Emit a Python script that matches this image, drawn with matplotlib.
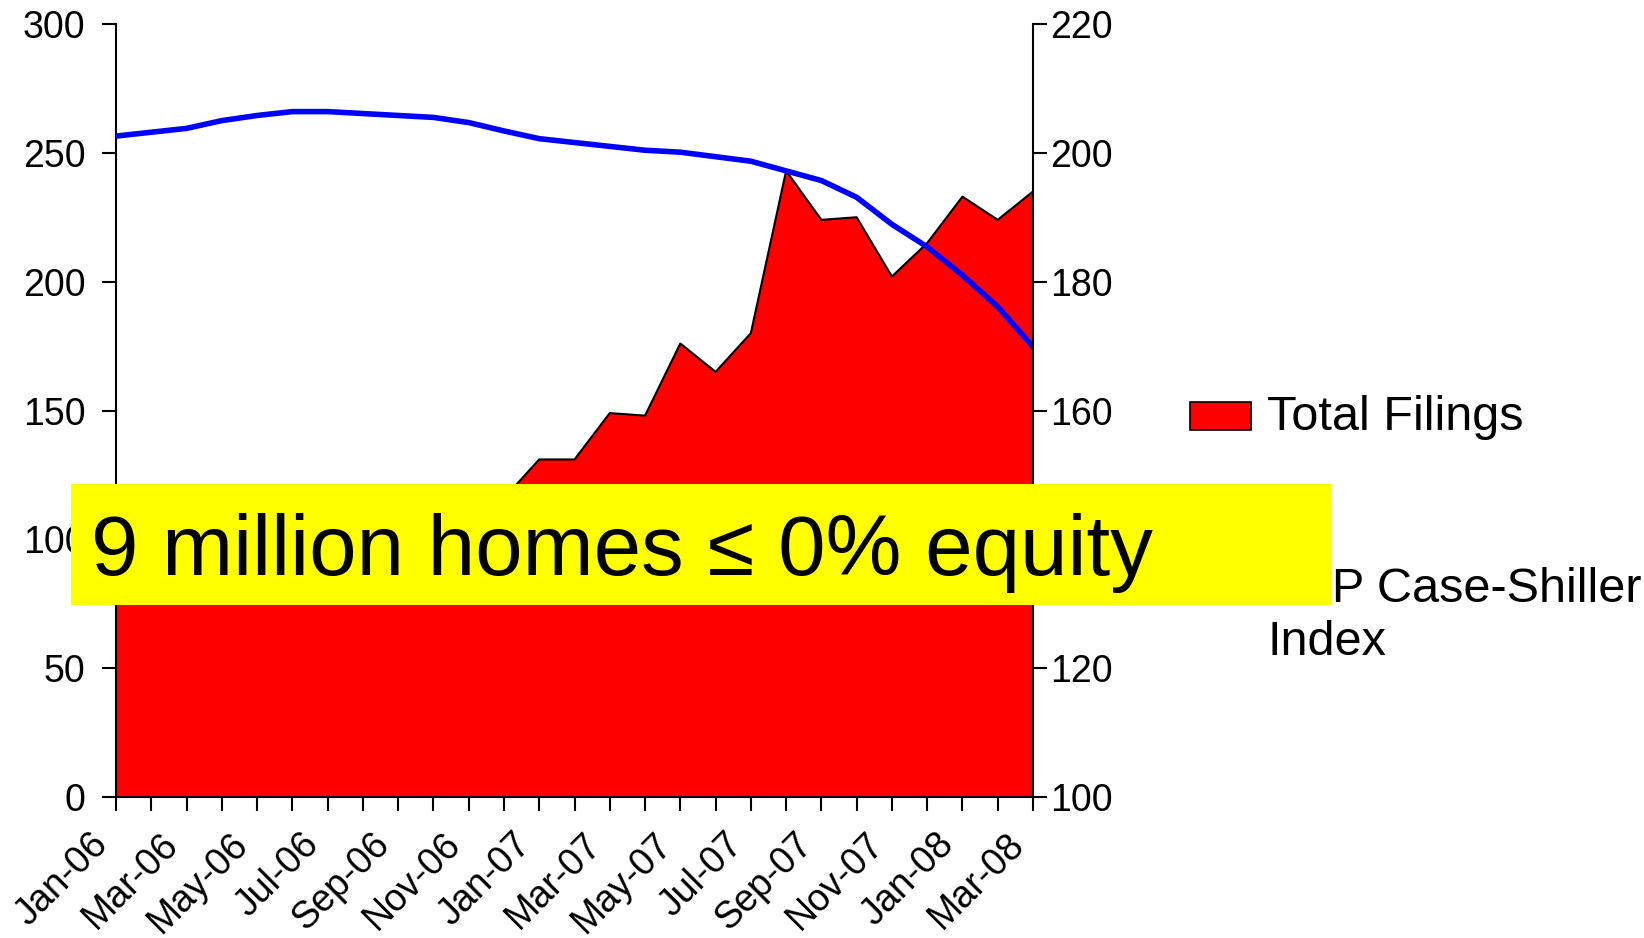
import numpy as np
import matplotlib
matplotlib.use("Agg")
import matplotlib.pyplot as plt
import matplotlib.transforms as mtransforms
from matplotlib.patches import Rectangle
from matplotlib.lines import Line2D

plt.rcParams['font.family'] = ['Liberation Sans', 'DejaVu Sans']

months = ['Jan-06', 'Feb-06', 'Mar-06', 'Apr-06', 'May-06', 'Jun-06', 'Jul-06',
          'Aug-06', 'Sep-06', 'Oct-06', 'Nov-06', 'Dec-06',
          'Jan-07', 'Feb-07', 'Mar-07', 'Apr-07', 'May-07', 'Jun-07', 'Jul-07',
          'Aug-07', 'Sep-07', 'Oct-07', 'Nov-07', 'Dec-07',
          'Jan-08', 'Feb-08', 'Mar-08']

# foreclosure filings, thousands (left axis)
filings = [97, 95, 104, 100, 103, 98, 105, 115, 100, 104, 108, 116,
           131, 131, 149, 148, 176, 165, 180, 243, 224, 225, 202, 215,
           233, 224, 235]

# S&P Case-Shiller index (right axis)
case_shiller = [202.6, 203.2, 203.8, 205.0, 205.8, 206.4, 206.4, 206.1, 205.8,
                205.5, 204.7, 203.4, 202.2, 201.6, 201.0, 200.4, 200.1, 199.4,
                198.7, 197.2, 195.7, 193.1, 188.9, 185.4, 181.0, 176.1, 169.9]

W, H = 1644, 938
fig = plt.figure(figsize=(W / 100, H / 100), dpi=100)
ax = fig.add_axes([116 / W, 1 - 797 / H, (1033 - 116) / W, (797 - 24) / H])

x = np.arange(len(months))
ax.fill_between(x, filings, 0, facecolor='#ff0000', edgecolor='none')
ax.plot(x, filings, color='black', lw=1.5)
ax.set_xlim(0, len(months) - 1)
ax.set_ylim(0, 300)
ax.set_yticks(np.arange(0, 301, 50))
ax.set_xticks(x)
ax.set_xticklabels([])
ax.tick_params(axis='y', direction='out', length=10, width=1.5, labelsize=27, pad=12)
ax.tick_params(axis='x', direction='out', length=10, width=1.5)
for s in ['top', 'right']:
    ax.spines[s].set_visible(False)
for s in ['left', 'bottom']:
    ax.spines[s].set_linewidth(1.5)

# month labels every second tick, shifted left/down like the original
lab_tr = ax.get_xaxis_transform() + mtransforms.ScaledTranslation(-0.14, -0.42, fig.dpi_scale_trans)
for i in range(0, len(months), 2):
    ax.text(x[i], 0, months[i], transform=lab_tr, fontsize=27, rotation=45,
            ha='right', va='center', rotation_mode='anchor', clip_on=False)

ax2 = ax.twinx()
ax2.plot(x, case_shiller, color='#0000ff', lw=4)
ax2.set_ylim(100, 220)
ax2.set_yticks(np.arange(100, 221, 20))
ax2.tick_params(axis='y', direction='out', length=10, width=1.5, labelsize=27, pad=2)
for s in ['top', 'left', 'bottom']:
    ax2.spines[s].set_visible(False)
ax2.spines['right'].set_linewidth(1.5)

# legend built by hand so the yellow banner can cover it
fig.add_artist(Rectangle((1190 / W, 1 - 430 / H), 61 / W, 28 / H, transform=fig.transFigure,
                         facecolor='#ff0000', edgecolor='black', lw=1.2, zorder=1))
fig.text(1267 / W, 1 - 417 / H, 'Total Filings', fontsize=35, va='center', zorder=1)
fig.add_artist(Line2D([1190 / W, 1251 / W], [1 - 560 / H, 1 - 560 / H], transform=fig.transFigure,
                      color='#0000ff', lw=4, zorder=1))
fig.text(1267 / W, 1 - 616 / H, 'S&P Case-Shiller\nIndex', fontsize=35, va='center',
         linespacing=1.25, zorder=1)

# yellow banner
fig.add_artist(Rectangle((71 / W, 1 - 605 / H), (1332 - 71) / W, 121 / H, transform=fig.transFigure,
                         facecolor='#ffff00', edgecolor='none', zorder=5))
fig.text(91 / W, 1 - 553 / H, '9 million homes \u2264 0% equity', fontsize=61.5, va='center', zorder=6)

fig.savefig('out.png', dpi=100)
